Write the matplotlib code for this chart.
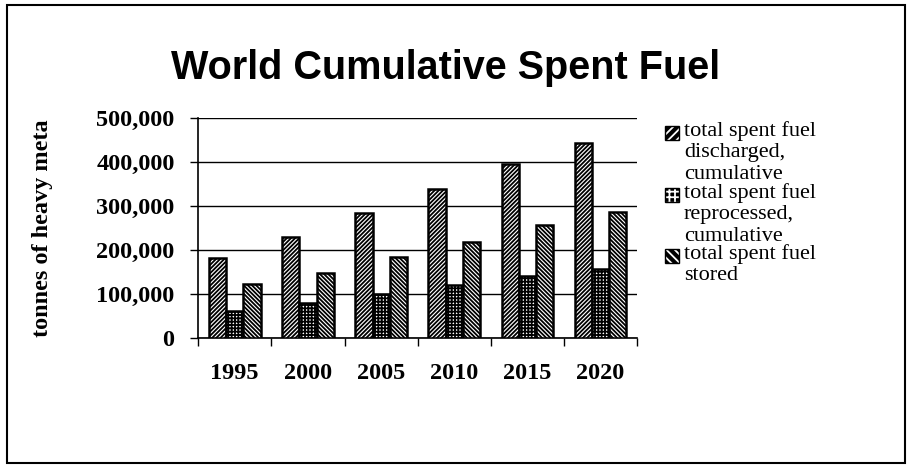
# World cumulative spent fuel - grouped hatched bar chart
import numpy as np
import matplotlib.pyplot as plt
from matplotlib.patches import Rectangle

# Data
years = ['1995', '2000', '2005', '2010', '2015', '2020']
discharged = [182000, 229000, 284000, 339000, 395000, 443000]
reprocessed = [61000, 80000, 100000, 120000, 141000, 157000]
stored = [123000, 148000, 184000, 218000, 257000, 286000]
series_labels = ['total spent fuel\ndischarged,\ncumulative',
                 'total spent fuel\nreprocessed,\ncumulative',
                 'total spent fuel\nstored']

plt.rcParams['hatch.linewidth'] = 1.3
serif_bold = dict(fontfamily='Liberation Serif', fontweight='bold', fontsize=17.5)

fig = plt.figure(figsize=(9.09, 4.66), dpi=100)
ax = fig.add_axes([0.218, 0.275, 0.483, 0.472])

x = np.arange(len(years))
w = 0.235
hatches = ['////////', '+++++', '\\\\\\\\\\\\\\\\']
for i, (vals, h) in enumerate(zip([discharged, reprocessed, stored], hatches)):
    ax.bar(x + (i - 1) * w, vals, width=w, color='white', edgecolor='black',
           linewidth=1.8, hatch=h, zorder=3)

ax.set_ylim(0, 500000)
ax.set_xlim(-0.5, len(years) - 0.5)
ax.set_yticks(np.arange(0, 500001, 100000))
ax.set_yticklabels([f'{v:,}' for v in range(0, 500001, 100000)], **serif_bold)
ax.yaxis.grid(True, color='black', linewidth=1.0, zorder=0)

# category boundaries as ticks, labels at centers
ax.set_xticks(np.arange(-0.5, len(years)), minor=False)
ax.set_xticklabels([])
ax.set_xticks(x, minor=True)
ax.set_xticklabels(years, minor=True, **serif_bold)
ax.tick_params(axis='x', which='minor', length=0, pad=18)
ax.tick_params(axis='x', which='major', length=6, width=1, direction='out')
ax.tick_params(axis='y', length=6, width=1, direction='out', pad=11)

for s in ['top', 'right']:
    ax.spines[s].set_visible(False)
ax.spines['left'].set_linewidth(1.2)
ax.spines['bottom'].set_linewidth(1.2)

ax.set_ylabel('tonnes of heavy meta', **serif_bold)
ax.yaxis.set_label_coords(-0.33, 0.5)

fig.text(0.49, 0.855, 'World Cumulative Spent Fuel', ha='center', va='center',
         fontfamily='Liberation Sans', fontweight='bold', fontsize=28.5)

# legend drawn by hand: swatch beside the first line of each entry
W, H = 909.0, 466.0
entry_y = [133, 195, 256]
leg_hatches = ['////', '+++', '\\\\\\\\']
for lab, h, yc in zip(series_labels, leg_hatches, entry_y):
    sw = (665 / W, 1 - (yc + 7) / H)
    fig.patches.append(Rectangle(sw, 14 / W, 14 / H, transform=fig.transFigure,
                                 facecolor='black', edgecolor='white', hatch=h,
                                 linewidth=0))
    fig.patches.append(Rectangle(sw, 14 / W, 14 / H, transform=fig.transFigure,
                                 fill=False, edgecolor='black', linewidth=1))
    fig.text(684 / W, 1 - (yc - 12) / H, lab, ha='left', va='top',
             fontfamily='Liberation Serif', fontsize=16, linespacing=1.18)

# outer frame
fig.patches.append(Rectangle((0.008, 0.006), 0.988, 0.984, transform=fig.transFigure,
                             fill=False, edgecolor='black', linewidth=1.5))

fig.savefig('out.png', dpi=100)
